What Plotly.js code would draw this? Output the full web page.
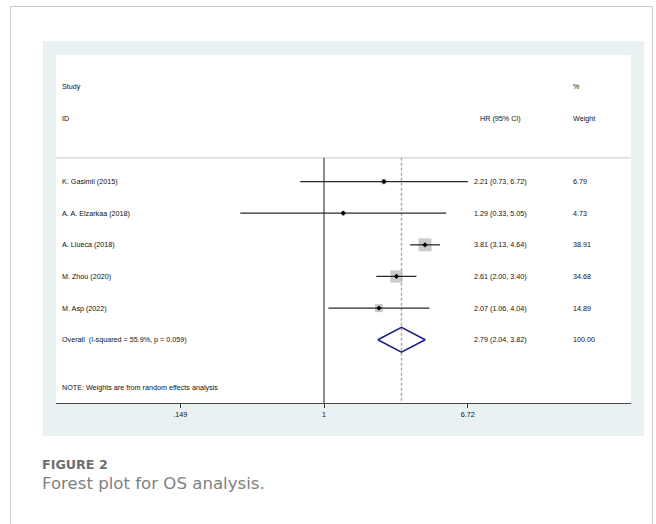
<!DOCTYPE html>
<html>
<head>
<meta charset="utf-8">
<script src="https://cdn.plot.ly/plotly-3.0.1.min.js"></script>
<style>
  html, body { margin: 0; padding: 0; background: #ffffff; }
  #chart { width: 656px; height: 524px; }
</style>
</head>
<body>
<div id="chart"></div>
<script>
// Study-level hazard ratios for overall survival
const studies = ['K. Gasimli (2015)', 'A. A. Elzarkaa (2018)', 'A. Llueca (2018)', 'M. Zhou (2020)', 'M. Asp (2022)'];
const hr = [2.21, 1.29, 3.81, 2.61, 2.07];
const ciLow = [0.73, 0.33, 3.13, 2.00, 1.06];
const ciHigh = [6.72, 5.05, 4.64, 3.40, 4.04];
const weights = [6.79, 4.73, 38.91, 34.68, 14.89];

// Pooled (random effects) estimate
const overallLabel = 'Overall\u00a0 (I-squared = 55.9%, p = 0.059)';
const overallHR = 2.79;
const overallLow = 2.04;
const overallHigh = 3.82;
const overallWeight = 100.00;

const noteText = 'NOTE: Weights are from random effects analysis';
const tickValues = [0.149, 1, 6.72];
const tickLabels = ['.149', '1', '6.72'];

// Row layout: one row per study, then the pooled row
const rows = studies.map((_, i) => i + 1);
const overallRow = studies.length + 1;
const noteRow = overallRow + 1.5;
const headerLineRow = 0.25;
const bottomRow = 8;

const textFont = { family: 'Liberation Sans, Arial, sans-serif', size: 7.2, color: '#111111' };
const colStudy = 0.011;
const colHR = 0.7275;
const colHRHead = 0.738;
const colWeight = 0.8997;

function fmt(v) { return v.toFixed(2); }

// Confidence interval whiskers
const ciX = [], ciY = [];
rows.forEach((r, i) => { ciX.push(ciLow[i], ciHigh[i], null); ciY.push(r, r, null); });

const traces = [
  {
    // reference line at HR = 1
    x: [1, 1], y: [headerLineRow, bottomRow], mode: 'lines',
    line: { color: '#1e1e1e', width: 1 }, hoverinfo: 'skip', showlegend: false
  },
  {
    // pooled-estimate line
    x: [overallHR, overallHR], y: [headerLineRow, bottomRow], mode: 'lines',
    line: { color: '#c99a9a', width: 1.4, dash: '3px,2px' }, hoverinfo: 'skip', showlegend: false
  },
  {
    // weight boxes (area proportional to weight)
    x: hr, y: rows, mode: 'markers',
    marker: { symbol: 'square', color: '#b5b5b5', size: weights.map(w => 2.08 * Math.sqrt(w)), line: { width: 0 } },
    hoverinfo: 'skip', showlegend: false
  },
  {
    x: ciX, y: ciY, mode: 'lines',
    line: { color: '#2a2a2a', width: 1.3 }, hoverinfo: 'skip', showlegend: false
  },
  {
    // point estimates
    x: hr, y: rows, mode: 'markers',
    marker: { symbol: 'diamond', color: '#000000', size: 4 },
    hoverinfo: 'skip', showlegend: false
  },
  {
    // pooled diamond
    x: [overallLow, overallHR, overallHigh, overallHR, overallLow],
    y: [overallRow, overallRow - 0.395, overallRow, overallRow + 0.395, overallRow],
    mode: 'lines', line: { color: '#1c1c86', width: 1.5 }, hoverinfo: 'skip', showlegend: false
  }
];

function txt(text, x, y, extra) {
  return Object.assign({
    text: text, x: x, y: y, xref: 'paper', yref: 'y',
    xanchor: 'left', yanchor: 'middle', showarrow: false,
    borderpad: 0, borderwidth: 0, font: textFont
  }, extra || {});
}

const annotations = [
  txt('Study', colStudy, -2),
  txt('ID', colStudy, -1),
  txt('HR (95% CI)', colHRHead, -1),
  txt('%', colWeight, -2),
  txt('Weight', colWeight, -1)
];
rows.forEach((r, i) => {
  annotations.push(txt(studies[i], colStudy, r));
  annotations.push(txt(fmt(hr[i]) + ' (' + fmt(ciLow[i]) + ', ' + fmt(ciHigh[i]) + ')', colHR, r));
  annotations.push(txt(fmt(weights[i]), colWeight, r));
});
annotations.push(txt(overallLabel, colStudy, overallRow));
annotations.push(txt(fmt(overallHR) + ' (' + fmt(overallLow) + ', ' + fmt(overallHigh) + ')', colHR, overallRow));
annotations.push(txt(fmt(overallWeight), colWeight, overallRow));
annotations.push(txt(noteText, colStudy, noteRow));

// Figure caption below the panel
annotations.push({
  text: '<b>FIGURE 2</b>', x: -0.0249, y: -0.178, xref: 'paper', yref: 'paper',
  xanchor: 'left', yanchor: 'middle', showarrow: false, borderpad: 0, borderwidth: 0,
  font: { family: 'DejaVu Sans, sans-serif', size: 12.7, color: '#6e6e6e' }
});
annotations.push({
  text: 'Forest plot for OS analysis.', x: -0.0249, y: -0.23, xref: 'paper', yref: 'paper',
  xanchor: 'left', yanchor: 'middle', showarrow: false, borderpad: 0, borderwidth: 0,
  font: { family: 'DejaVu Sans, sans-serif', size: 16.6, color: '#808080' }
});

const shapes = [
  // card outline
  { type: 'rect', xref: 'paper', yref: 'paper', x0: -0.0791, x1: 1.0374, y0: -0.40, y1: 1.1394,
    line: { color: '#cbcbcb', width: 1 }, fillcolor: '#ffffff', layer: 'below' },
  // tinted panel behind the graph
  { type: 'rect', xref: 'paper', yref: 'paper', x0: -0.0226, x1: 1.0226, y0: -0.0948, y1: 1.0402,
    line: { width: 0 }, fillcolor: '#e9f1f3', layer: 'below' },
  // plot region
  { type: 'rect', xref: 'paper', yref: 'paper', x0: 0, x1: 1, y0: 0, y1: 1,
    line: { width: 0 }, fillcolor: '#ffffff', layer: 'below' },
  // rule under the column headers
  { type: 'line', xref: 'paper', yref: 'y', x0: 0, x1: 1, y0: headerLineRow, y1: headerLineRow,
    line: { color: '#dcdcdc', width: 1.5 }, layer: 'below' }
];

const layout = {
  width: 656, height: 524,
  margin: { l: 56, r: 25, t: 55, b: 121 },
  paper_bgcolor: '#ffffff', plot_bgcolor: 'rgba(0,0,0,0)',
  showlegend: false,
  xaxis: {
    type: 'log', range: [-1.5416, 1.7659], fixedrange: true,
    tickmode: 'array', tickvals: tickValues, ticktext: tickLabels,
    ticks: 'outside', ticklen: 4, tickwidth: 1, tickcolor: '#333333',
    showline: true, linecolor: '#4a4a4a', linewidth: 1,
    showgrid: false, zeroline: false,
    tickfont: textFont
  },
  yaxis: {
    range: [bottomRow, -3], visible: false, fixedrange: true,
    showgrid: false, zeroline: false
  },
  shapes: shapes,
  annotations: annotations
};

Plotly.newPlot('chart', traces, layout, { staticPlot: true, displayModeBar: false });
</script>
</body>
</html>
